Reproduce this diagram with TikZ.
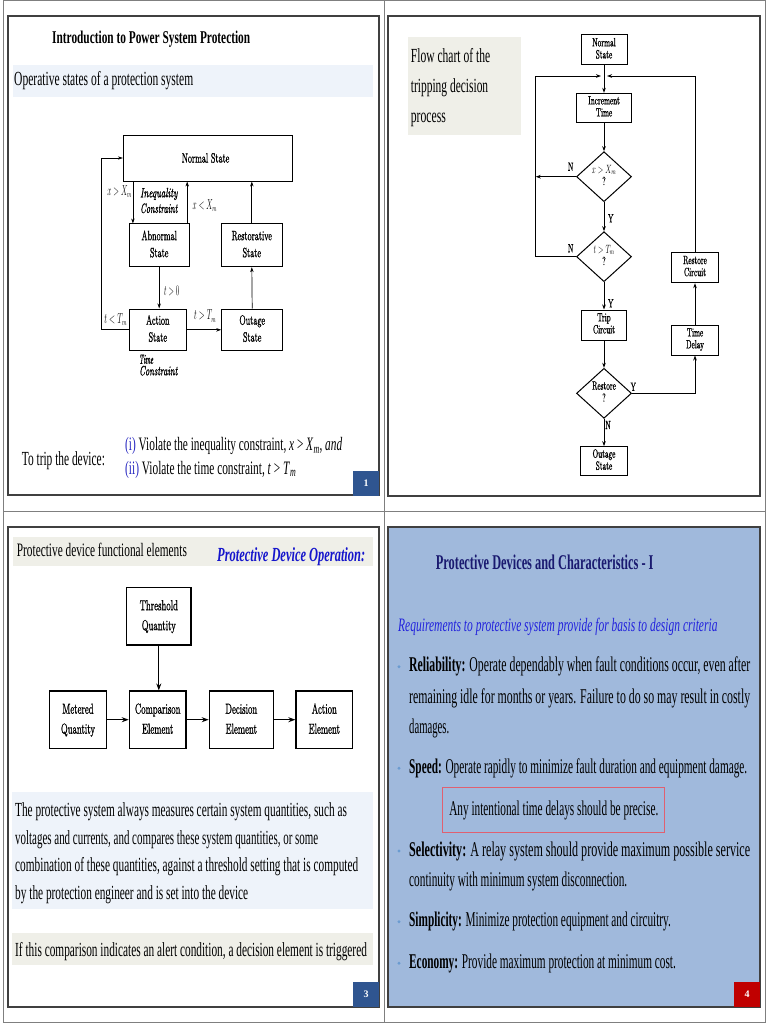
\documentclass[tikz,border=0pt]{standalone}
\usepackage{fontspec}
\usepackage{graphicx}
\newfontfamily\tnr{Liberation Serif}
\newfontfamily\dgf{lmroman10-regular.otf}[ItalicFont=lmroman10-italic.otf, FakeBold=1.2]
\usetikzlibrary{shapes.geometric,arrows.meta}
\newcommand\fwf[3]{\resizebox{#1pt}{\height}{\fontsize{#2}{#2}\selectfont #3}}
\newcommand\sqz[1]{\scalebox{0.6}[1]{#1}}
\newcommand\two[2]{\sqz{\begin{tabular}{@{}c@{}}#1\\#2\end{tabular}}}
\definecolor{gridc}{HTML}{7F7F7F}
\definecolor{framec}{HTML}{404040}
\definecolor{bandblue}{HTML}{EEF3FA}
\definecolor{bandbeige}{HTML}{EFEFE8}
\definecolor{pagebl}{HTML}{2F5590}
\definecolor{pagered}{HTML}{C00000}
\definecolor{slidefour}{HTML}{A0B9DC}
\definecolor{navy}{HTML}{1A1A70}
\definecolor{subblue}{HTML}{2222DD}
\definecolor{opblue}{HTML}{1515CC}
\definecolor{ibl}{HTML}{2525C0}
\definecolor{bulc}{HTML}{6A9BD0}
\definecolor{redbox}{HTML}{E06070}
\begin{document}
\begin{tikzpicture}[x=1pt,y=-1pt,
  dbox/.style={draw, line width=0.9pt, inner sep=0, font=\dgf\fontsize{13.5}{17}\selectfont},
  fbox/.style={draw, line width=1pt, inner sep=0, font=\dgf\fontsize{12}{12}\selectfont},
  fdia/.style={diamond, draw, line width=1pt, inner sep=0, minimum width=55, minimum height=50, font=\dgf\fontsize{12}{12}\selectfont},
  pbox/.style={draw, line width=1.2pt, inner sep=0, font=\dgf\fontsize{14.5}{20}\selectfont},
  darr/.style={-{Stealth[length=5pt,width=3.4pt]}, line width=0.7pt},
  farr/.style={-{Stealth[length=5pt,width=3.6pt]}, line width=0.9pt},
  parr/.style={-{Stealth[length=7pt,width=5pt]}, line width=1.2pt},
  txt/.style={inner sep=0, anchor=base west},
  lbl/.style={inner sep=0, font=\dgf},
  fl/.style={inner sep=0, font=\dgf\fontsize{12}{12}\selectfont},
  pg/.style={inner sep=0, minimum width=26, minimum height=25, text=white, font=\tnr\bfseries\fontsize{10}{10}\selectfont},
  bul/.style={circle, fill=bulc, inner sep=0, minimum size=3.2}]
\useasboundingbox (0,0) rectangle (768,1024);
\fill[white] (0,0) rectangle (768,1024);
% outer grid
\draw[gridc, line width=1pt] (3.5,0.7) rectangle (765,1022.5);
\draw[gridc, line width=1pt] (384,0.7) -- (384,1022.5);
\draw[gridc, line width=1pt] (3.5,511) -- (765,511);
% slide frames
\draw[framec, line width=1.4pt] (8,16) rectangle (379,495);
\draw[framec, line width=1.4pt] (388,16) rectangle (760,496);
\draw[framec, line width=1.4pt] (8,527) rectangle (379,1007);
\filldraw[fill=slidefour, draw=framec, line width=1.4pt] (388,527) rectangle (760,1007);
% bands
\fill[bandblue] (13,65) rectangle (373,96.7);
\fill[bandbeige] (408,36.7) rectangle (520.7,135);
\fill[bandbeige] (13.3,536.7) rectangle (373.3,566);
\fill[bandblue] (11.7,791.7) rectangle (373.3,909.3);
\fill[bandbeige] (11.7,933.3) rectangle (373.3,965);

% ---------------- Panel 1 ----------------
\node[txt] (p1t) at (52,44) {\fwf{198}{18}{\tnr\bfseries Introduction to Power System Protection}};
\node[txt] (p1s) at (14,86) {\fwf{179}{20}{\tnr Operative states of a protection system}};
\node[dbox, minimum width=169.4, minimum height=46] (ns) at (208,158) {\sqz{Normal State\hspace{8pt}}};
\node[dbox, minimum width=60.3, minimum height=42.7] (ab) at (159.2,245.3) {\two{Abnormal}{State}};
\node[dbox, minimum width=61.7, minimum height=42.7] (rs) at (251.8,245.3) {\two{Restorative}{State}};
\node[dbox, minimum width=57.7, minimum height=41.7] (ac) at (157.8,329.8) {\two{Action}{State}};
\node[dbox, minimum width=61, minimum height=41.7] (og) at (252.2,329.8) {\two{Outage}{State}};
\coordinate (lpx) at (101.7,0);
\draw[darr] ([xshift=4.3pt]ab.north west |- ns.south) -- ([xshift=4.3pt]ab.north west);
\draw[darr] ([xshift=-2.6pt]ab.north east) -- ([xshift=-2.6pt]ab.north east |- ns.south);
\draw[darr] (rs.north) -- (rs.north |- ns.south);
\draw[darr] (ab.south) -- (ab.south |- ac.north);
\draw[darr] (ac.east) -- (og.west);
\draw[darr] (og.north) -- (rs.south);
\draw[darr] (ac.west) -- (ac.west -| lpx) |- (ns.west);
\node[lbl] (l1) at (119.5,191.3) {\fwf{24.4}{13.5}{$x>X_m$}};
\node[lbl, anchor=west] (l2) at (140,194) {\fwf{37.3}{13.5}{\itshape Inequality}};
\node[lbl, anchor=west] (l3) at (140,208.3) {\fwf{37.3}{13.5}{\itshape Constraint}};
\node[lbl] (l4) at (204.7,206) {\fwf{24}{13.5}{$x<X_m$}};
\node[lbl] (l5) at (171.7,290.7) {\fwf{15.3}{13.5}{$t>0$}};
\node[lbl] (l6) at (205,316) {\fwf{22}{13.5}{$t>T_m$}};
\node[lbl] (l7) at (115.5,319.3) {\fwf{22.5}{13.5}{$t<T_m$}};
\node[lbl, anchor=west] (l8) at (139,359.3) {\fwf{14}{13.5}{\itshape Time}};
\node[lbl, anchor=west] (l9) at (139,370.7) {\fwf{38.3}{13.5}{\itshape Constraint}};
\node[txt] (p1d) at (21.7,465) {\fwf{83}{20}{\tnr To trip the device:}};
\node[txt] (p1i) at (125,450.7) {\fwf{217}{19}{\tnr{\color{ibl}(i)} Violate the inequality constraint, \textit{x} > \textit{X}\textsubscript{\textit{m}}, \textit{and}}};
\node[txt] (p1ii) at (125,474) {\fwf{171}{19}{\tnr{\color{ibl}(ii)} Violate the time constraint, \textit{t} > \textit{T}\textsubscript{\textit{m}}}};
\node[pg, fill=pagebl] (pg1) at (366,483) {1};

% ---------------- Panel 2 ----------------
\node[txt] (f1) at (410.7,62.7) {\fwf{79.3}{20}{\tnr Flow chart of the}};
\node[txt] (f2) at (410.7,92.7) {\fwf{77.3}{20}{\tnr tripping decision}};
\node[txt] (f3) at (410.7,123) {\fwf{35}{20}{\tnr process}};
\node[fbox, minimum width=46, minimum height=30] (fns) at (604,50) {\two{Normal}{State}};
\node[fbox, minimum width=55.4, minimum height=29.4] (fit) at (604,108) {\two{Increment}{Time}};
\node[fdia] (fd1) at (604,176.7) {\two{$x>X_m$}{?}};
\node[fdia] (fd2) at (604,256.7) {\two{$t>T_m$}{?}};
\node[fbox, minimum width=45.6, minimum height=30] (ftc) at (604,325) {\two{Trip}{Circuit}};
\node[fdia] (fd3) at (604,393.3) {\two{Restore}{?}};
\node[fbox, minimum width=46.6, minimum height=29.3] (fos) at (604,461.3) {\two{Outage}{State}};
\node[fbox, minimum width=46.3, minimum height=30] (frc) at (695,267.7) {\two{Restore}{Circuit}};
\node[fbox, minimum width=46.3, minimum height=30] (ftd) at (695,340) {\two{Time}{Delay}};
\coordinate (mg) at (604,76);
\coordinate (lft) at (535.7,0);
\draw[farr] (fns.south) -- (fit.north);
\draw[farr] (fit.south) -- (fd1.north);
\draw[farr] (fd1.west) -- (fd1.west -| lft);
\draw[farr] (fd1.south) -- (fd2.north);
\draw[farr] (fd2.west) -- (fd2.west -| lft) |- ([xshift=-3pt]mg);
\draw[farr] (fd2.south) -- (ftc.north);
\draw[farr] (ftc.south) -- (fd3.north);
\draw[farr] (fd3.south) -- (fos.north);
\draw[farr] (fd3.east) -| (ftd.south);
\draw[farr] (ftd.north) -- (frc.south);
\draw[farr] (frc.north) |- ([xshift=3pt]mg);
\node[fl] (n1) at (570.7,166.7) {\sqz{N}};
\node[fl] (y1) at (610.7,218.3) {\sqz{Y}};
\node[fl] (n2) at (570.7,248.3) {\sqz{N}};
\node[fl] (y2) at (610.7,303.3) {\sqz{Y}};
\node[fl] (y3) at (633.3,386.7) {\sqz{Y}};
\node[fl] (n3) at (608,425) {\sqz{N}};

% ---------------- Panel 3 ----------------
\node[txt] (h3) at (16.7,556.7) {\fwf{170}{19}{\tnr Protective device functional elements}};
\node[txt] (h3b) at (217,561.7) {\fwf{148}{20}{\tnr\bfseries\itshape\color{opblue}Protective Device Operation:}};
\node[pbox, minimum width=64.3, minimum height=57.7] (th) at (158.8,616.2) {\two{Threshold}{Quantity}};
\node[pbox, minimum width=57.4, minimum height=57.3] (mq) at (78,719.7) {\two{Metered}{Quantity}};
\node[pbox, minimum width=56.7, minimum height=57.3] (ce) at (157.7,719.7) {\two{Comparison}{Element}};
\node[pbox, minimum width=64, minimum height=57.3] (de) at (241.3,719.7) {\two{Decision}{Element}};
\node[pbox, minimum width=56.7, minimum height=57.3] (ae) at (324.3,719.7) {\two{Action}{Element}};
\draw[parr] (th.south) -- (th.south |- ce.north);
\draw[parr] (mq.east) -- (ce.west);
\draw[parr] (ce.east) -- (de.west);
\draw[parr] (de.east) -- (ae.west);
\node[txt] (q1) at (15,816.7) {\fwf{331.7}{20}{\tnr The protective system always measures certain system quantities, such as}};
\node[txt] (q2) at (15,844) {\fwf{303}{20}{\tnr voltages and currents, and compares these system quantities, or some}};
\node[txt] (q3) at (15,871.7) {\fwf{343}{20}{\tnr combination of these quantities, against a threshold setting that is computed}};
\node[txt] (q4) at (15,899.3) {\fwf{233}{20}{\tnr by the protection engineer and is set into the device}};
\node[txt] (q5) at (15,956) {\fwf{351.7}{20}{\tnr If this comparison indicates an alert condition, a decision element is triggered}};
\node[pg, fill=pagebl] (pg3) at (366,994.5) {3};

% ---------------- Panel 4 ----------------
\node[txt] (t4) at (435.7,569.3) {\fwf{217.6}{21}{\tnr\bfseries\color{navy}Protective Devices and Characteristics - I}};
\node[txt] (s4) at (398,631.7) {\fwf{319.3}{19}{\tnr\itshape\color{subblue}Requirements to protective system provide for basis to design criteria}};
\node[bul] (b1) at (399,666.7) {};
\node[txt] (r1) at (409,671.7) {\fwf{341}{21}{\tnr\textbf{Reliability:} Operate dependably when fault conditions occur, even after}};
\node[txt] (r2) at (409,703.3) {\fwf{341}{21}{\tnr remaining idle for months or years. Failure to do so may result in costly}};
\node[txt] (r3) at (409,733.3) {\fwf{40}{21}{\tnr damages.}};
\node[bul] (b2) at (399,768.3) {};
\node[txt] (sp) at (409,773.3) {\fwf{338}{21}{\tnr\textbf{Speed:} Operate rapidly to minimize fault duration and equipment damage.}};
\node[draw=redbox, line width=1pt, minimum width=222.3, minimum height=45.4, inner sep=0] (rb) at (553.8,810) {\fwf{209}{21}{\tnr Any intentional time delays should be precise.}};
\node[bul] (b3) at (399,851) {};
\node[txt] (se1) at (409,856) {\fwf{341}{21}{\tnr\textbf{Selectivity:} A relay system should provide maximum possible service}};
\node[txt] (se2) at (409,886.7) {\fwf{218}{21}{\tnr continuity with minimum system disconnection.}};
\node[bul] (b4) at (399,921.7) {};
\node[txt] (si) at (409,926.7) {\fwf{261.7}{21}{\tnr\textbf{Simplicity:} Minimize protection equipment and circuitry.}};
\node[bul] (b5) at (399,963.3) {};
\node[txt] (ec) at (409,968.3) {\fwf{266.7}{21}{\tnr\textbf{Economy:} Provide maximum protection at minimum cost.}};
\node[pg, fill=pagered] (pg4) at (747,994.5) {4};
\end{tikzpicture}
\end{document}
